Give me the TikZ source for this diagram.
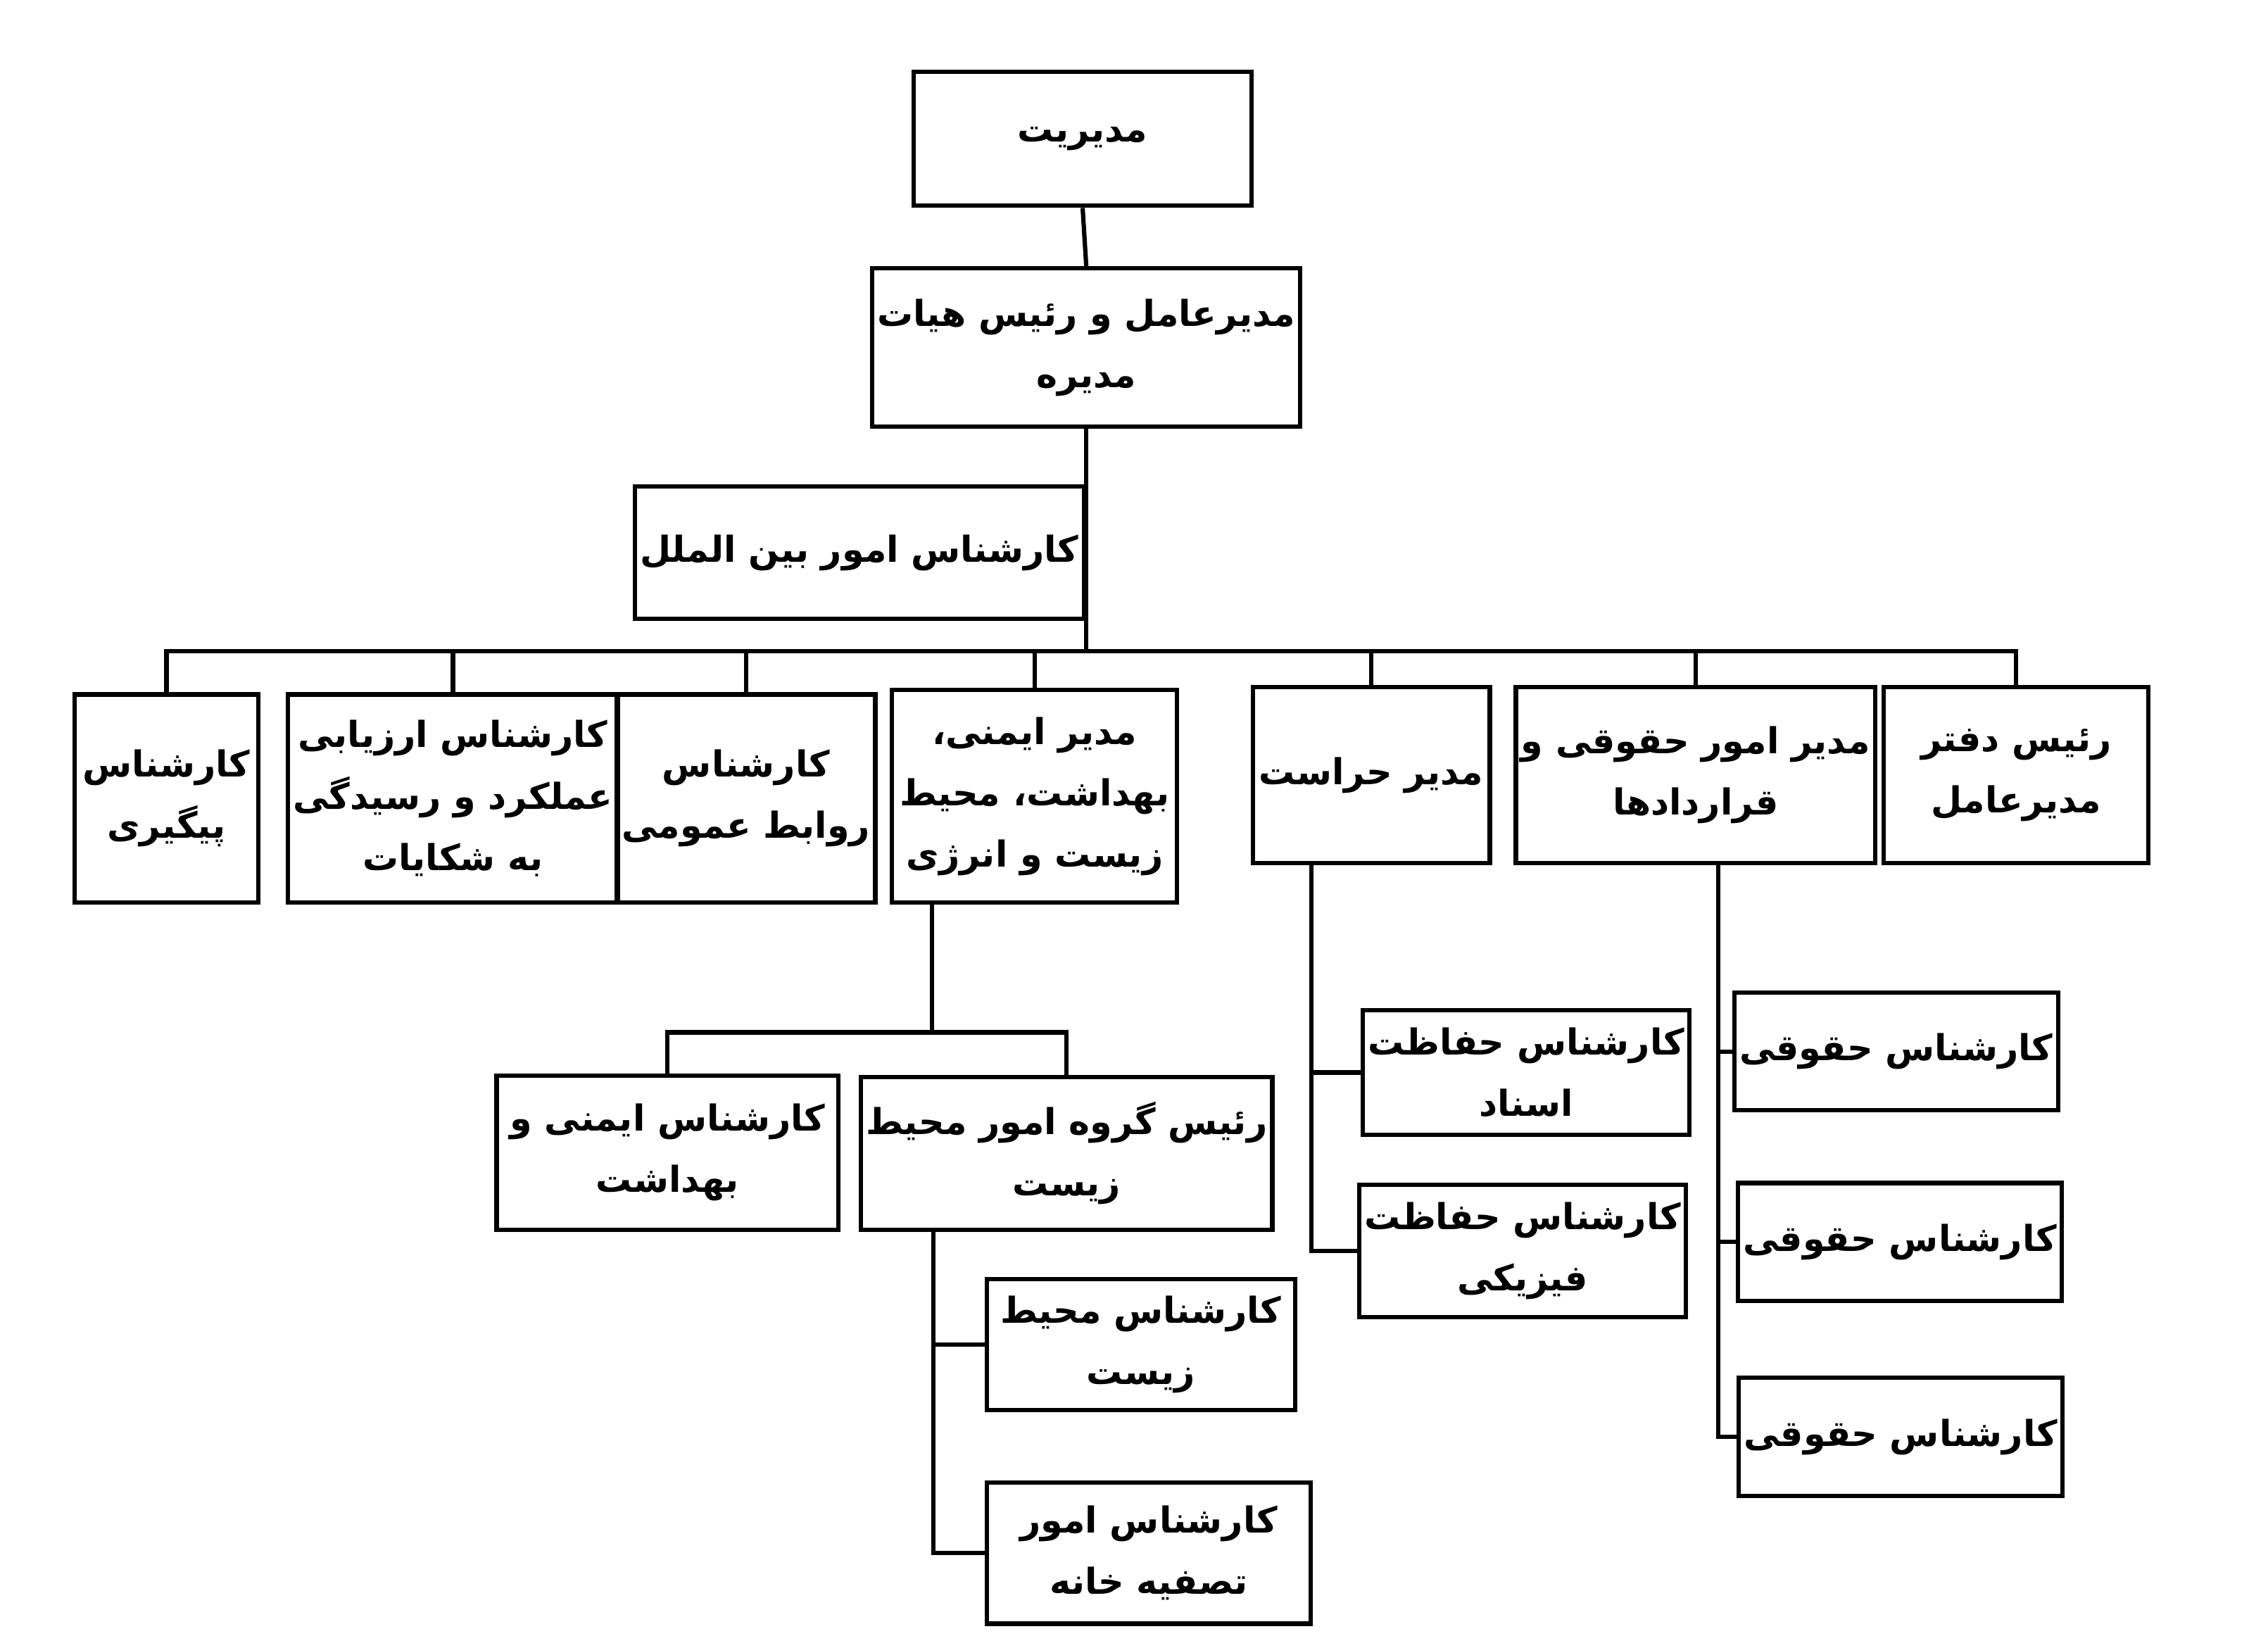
\documentclass[tikz,border=0pt]{standalone}
\usepackage{fontspec}
\setmainfont{DejaVu Sans}[Script=Arabic]
\TeXXeTstate=1
\newcommand\ar[1]{\beginR #1\endR}
\newcommand\bx[6]{\pgfmathsetmacro\bxcx{(#2+#4)/2*0.02}\pgfmathsetmacro\bxcy{-(#3+#5)/2*0.02}\pgfmathsetmacro\bxw{(#4-#2)*0.02-0.06}\pgfmathsetmacro\bxh{(#5-#3)*0.02-0.06}\node[box,minimum width=\bxw cm,minimum height=\bxh cm] (#1) at (\bxcx,\bxcy) {#6};}
\tikzset{box/.style={draw,line width=1.7pt,align=center,inner sep=2pt,font=\bfseries\fontsize{14}{24}\selectfont},
conn/.style={line width=1.7pt}}
\begin{document}
\begin{tikzpicture}
\useasboundingbox (0,0) rectangle (31.2,-22.66);
\bx{A}{627}{48}{862}{143}{\ar{مدیریت}}
\bx{B}{606}{183}{888}{295}{\ar{مدیرعامل و رئیس هیات}\\\ar{مدیره}}
\bx{C}{468}{333}{714}{427}{\ar{کارشناس امور بین الملل}}
\bx{n1}{50}{476}{179}{622}{\ar{کارشناس}\\\ar{پیگیری}}
\bx{n2}{213}{476}{410}{622}{\ar{کارشناس ارزیابی}\\\ar{عملکرد و رسیدگی}\\\ar{به شکایات}}
\bx{n3}{440}{476}{586}{622}{\ar{کارشناس}\\\ar{روابط عمومی}}
\bx{n4}{612}{473}{811}{622}{\ar{مدیر ایمنی،}\\\ar{بهداشت، محیط}\\\ar{زیست و انرژی}}
\bx{n5}{860}{471}{1026}{595}{\ar{مدیر حراست}}
\bx{n6}{1064}{471}{1268}{595}{\ar{مدیر امور حقوقی و}\\\ar{قراردادها}}
\bx{n7}{1294}{471}{1479}{595}{\ar{رئیس دفتر}\\\ar{مدیرعامل}}
\bx{s1}{340}{738}{578}{847}{\ar{کارشناس ایمنی و}\\\ar{بهداشت}}
\bx{s2}{611}{739}{856}{847}{\ar{رئیس گروه امور محیط}\\\ar{زیست}}
\bx{t1}{677}{878}{892}{971}{\ar{کارشناس محیط}\\\ar{زیست}}
\bx{t2}{677}{1018}{903}{1118}{\ar{کارشناس امور}\\\ar{تصفیه خانه}}
\bx{h1}{940}{693}{1159}{782}{\ar{کارشناس حفاظت}\\\ar{اسناد}}
\bx{h2}{939}{813}{1155}{907}{\ar{کارشناس حفاظت}\\\ar{فیزیکی}}
\bx{q1}{1214}{681}{1394}{765}{\ar{کارشناس حقوقی}}
\bx{q2}{1215}{812}{1398}{896}{\ar{کارشناس حقوقی}}
\bx{q3}{1215}{946}{1399}{1030}{\ar{کارشناس حقوقی}}
\coordinate (bus) at (0,-8.96);
\coordinate (bus2) at (0,-14.2);
\coordinate (xa) at (12.82,0);
\coordinate (xb) at (12.84,0);
\coordinate (xc) at (18.04,0);
\coordinate (xd) at (23.64,0);
\draw[conn] (A.south) -- (B.north);
\draw[conn] (B.south) -- (B.south|-bus);
\draw[conn] (C.east) -- (C.east -| B.south);
\draw[conn,line cap=rect] (n1.north|-bus) -- (n7.north|-bus);
\foreach \n in {n1,n2,n3,n4,n5,n6,n7} \draw[conn] (\n.north|-bus) -- (\n.north);
\draw[conn] (xa|-n4.south) -- (xa|-bus2);
\draw[conn,line cap=rect] (s1.north|-bus2) -- (s2.north|-bus2);
\draw[conn] (s1.north|-bus2) -- (s1.north);
\draw[conn] (s2.north|-bus2) -- (s2.north);
\draw[conn] (xb|-s2.south) |- (t2.west);
\draw[conn] (xb|-t1.west) -- (t1.west);
\draw[conn] (xc|-n5.south) |- (h2.west);
\draw[conn] (xc|-h1.west) -- (h1.west);
\draw[conn] (xd|-n6.south) |- (q3.west);
\draw[conn] (xd|-q1.west) -- (q1.west);
\draw[conn] (xd|-q2.west) -- (q2.west);
\end{tikzpicture}
\end{document}
